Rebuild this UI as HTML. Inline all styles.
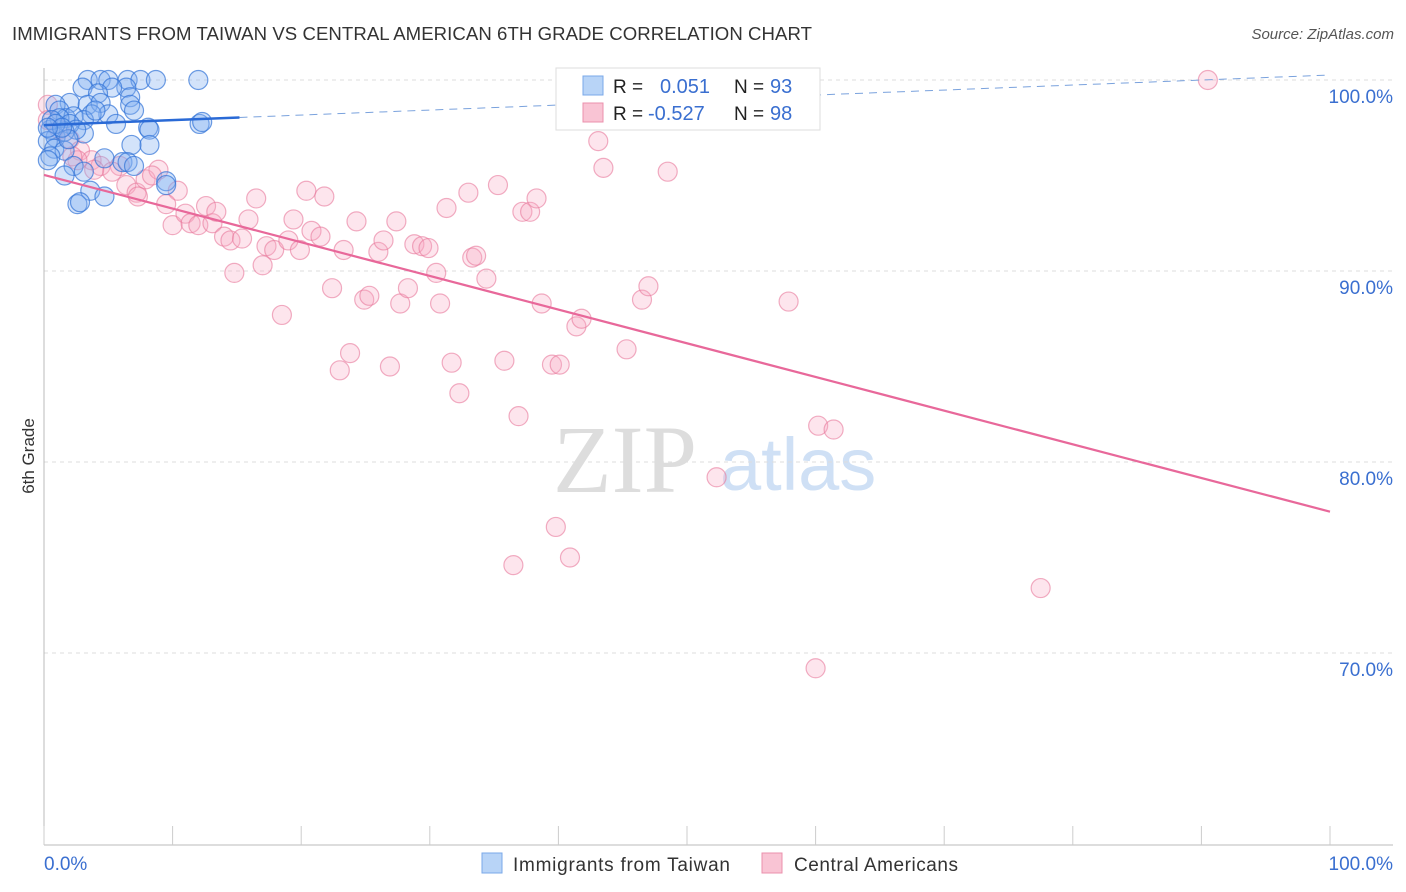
<!DOCTYPE html>
<html><head><meta charset="utf-8"><style>
body{margin:0;background:#fff;font-family:"Liberation Sans",sans-serif;}
svg{display:block}
</style></head><body>
<svg id="c" width="1406" height="892" xmlns="http://www.w3.org/2000/svg">
<text x="12" y="40" font-size="18.6" fill="#333" textLength="800">IMMIGRANTS FROM TAIWAN VS CENTRAL AMERICAN 6TH GRADE CORRELATION CHART</text>
<text x="1394" y="39" font-size="15" fill="#555" font-style="italic" text-anchor="end">Source: ZipAtlas.com</text>
<text x="34" y="456" font-size="17" fill="#333" text-anchor="middle" transform="rotate(-90 34 456)">6th Grade</text>
<g>
<text x="553" y="492" font-size="96" font-family="Liberation Serif,serif" fill="#ddd">ZIP</text>
<text x="720" y="490" font-size="74" fill="#cfe0f5">atlas</text>
</g>
<g id="grid"></g><g id="axes"></g><g id="pts"></g><g id="lines"></g>
<g>
<rect x="556" y="68" width="264" height="62" fill="#fff" stroke="#ddd"/>
<rect x="583" y="76" width="20" height="19" fill="#b8d4f7" stroke="#7aa8e8"/>
<rect x="583" y="103" width="20" height="19" fill="#f9c4d4" stroke="#eb90ac"/>
<text x="613" y="93" font-size="19" fill="#222">R =</text>
<text x="660" y="93" font-size="20" fill="#3a6fd0">0.051</text>
<text x="734" y="93" font-size="19" fill="#222">N =</text>
<text x="770" y="93" font-size="20" fill="#3a6fd0">93</text>
<text x="613" y="120" font-size="19" fill="#222">R =</text>
<text x="648" y="120" font-size="20" fill="#3a6fd0">-0.527</text>
<text x="734" y="120" font-size="19" fill="#222">N =</text>
<text x="770" y="120" font-size="20" fill="#3a6fd0">98</text>
</g>
<g>
<rect x="482" y="853" width="20" height="20" fill="#b8d4f7" stroke="#7aa8e8"/>
<text x="513" y="871" font-size="19" fill="#333" textLength="217">Immigrants from Taiwan</text>
<rect x="762" y="853" width="20" height="20" fill="#f9c4d4" stroke="#eb90ac"/>
<text x="794" y="871" font-size="19" fill="#333" textLength="164">Central Americans</text>
</g>
</svg>
<script>
const yTicks=[100,90,80,70];
const yTickLabels=["100.0%","90.0%","80.0%","70.0%"];
const xTicks=[0,10,20,30,40,50,60,70,80,90,100];
const blueX=[3.4,4.4,5.0,6.5,7.5,8.7,12.0,6.4,5.3,3.0,4.2,2.0,3.4,4.4,6.7,6.7,7.0,5.0,3.7,0.9,1.2,1.7,2.3,3.1,5.6,8.1,8.2,12.1,12.3,8.2,6.8,3.1,0.9,0.5,0.3,0.8,1.6,0.5,0.3,4.7,6.1,6.5,7.0,2.3,3.1,1.6,9.5,9.5,3.6,4.7,2.6,2.8,1.2,2.0,0.6,2.5,1.6,1.9,4.0,0.9,1.4,0.3];
const blueY=[100,100,100,100,100,100,100,99.6,99.6,99.6,99.3,98.8,98.7,98.8,99.1,98.7,98.4,98.2,98.2,98.7,98.4,98.0,98.1,97.9,97.7,97.5,97.4,97.7,97.8,96.6,96.6,97.2,97.0,97.4,96.8,96.4,96.3,96.0,95.8,95.9,95.7,95.7,95.5,95.5,95.2,95.0,94.7,94.5,94.2,93.9,93.5,93.6,98.0,97.7,97.9,97.4,97.3,96.9,98.4,97.7,97.5,97.5];
const pinkX=[0.3,0.3,1.2,2.0,2.8,3.7,2.6,4.4,5.9,5.3,6.4,7.2,7.9,7.3,8.9,8.4,10.4,9.5,10.0,11.0,11.4,12.0,12.6,13.1,13.4,14.0,14.5,15.4,15.9,16.5,14.8,17.0,17.3,17.9,18.5,19.0,19.4,19.9,20.4,20.8,21.5,21.8,22.4,23.0,23.3,23.8,24.3,24.9,25.3,26.0,26.4,26.9,27.4,27.7,28.3,28.8,29.4,29.9,30.5,30.8,31.3,31.7,32.3,33.0,33.3,33.6,34.4,35.3,35.8,36.5,36.9,37.2,37.8,38.3,38.7,39.5,39.8,40.1,40.9,41.4,41.8,43.1,43.5,45.3,46.5,47.0,48.5,49.3,52.3,57.9,60.2,61.4,60.0,77.5,90.5,3.9,2.2];
const pinkY=[98.7,97.9,97.4,96.9,96.3,95.8,95.8,95.5,95.5,95.2,94.5,94.1,94.8,93.9,95.3,95.0,94.2,93.5,92.4,93.0,92.5,92.4,93.4,92.5,93.1,91.8,91.6,91.7,92.7,93.8,89.9,90.3,91.3,91.1,87.7,91.6,92.7,91.1,94.2,92.1,91.8,93.9,89.1,84.8,91.1,85.7,92.6,88.5,88.7,91.0,91.6,85.0,92.6,88.3,89.1,91.4,91.3,91.2,89.9,88.3,93.3,85.2,83.6,94.1,90.7,90.8,89.6,94.5,85.3,74.6,82.4,93.1,93.1,93.8,88.3,85.1,76.6,85.1,75.0,87.1,87.5,96.8,95.4,85.9,88.5,89.2,95.2,100,79.2,88.4,81.9,81.7,69.2,73.4,100,95.3,96.0];
const blueFit=[97.64,100.26];
const pinkFit=[95.03,77.4];
const NS="http://www.w3.org/2000/svg";
const sx=v=>44+v*12.86;
const sy=v=>80+(100-v)*19.1;
function mk(t,a,p){const e=document.createElementNS(NS,t);for(const k in a)e.setAttribute(k,a[k]);document.getElementById(p).appendChild(e);return e;}
yTicks.forEach((t,i)=>{
 const l=mk('line',{x1:44,x2:1393,y1:sy(t),y2:sy(t),stroke:'#ddd','stroke-dasharray':'4,4'},'grid');
 
 
 const tx=mk('text',{x:1393,y:sy(t)+23,'font-size':19,fill:'#3a6fd0','text-anchor':'end'},'grid');
 tx.textContent=yTickLabels[i];
 
 
});
const ax=mk('line',{x1:44,x2:1393,y1:845,y2:845,stroke:'#bbb'},'axes');


const ay=mk('line',{x1:44,x2:44,y1:68,y2:845,stroke:'#bbb'},'axes');


xTicks.forEach(t=>{
 const l=mk('line',{x1:sx(t),x2:sx(t),y1:826,y2:845,stroke:'#ccc'},'axes');
 
 
});
const x0=mk('text',{x:44,y:870,'font-size':19,fill:'#3a6fd0'},'axes');x0.textContent='0.0%';


const x1=mk('text',{x:1393,y:870,'font-size':19,fill:'#3a6fd0','text-anchor':'end'},'axes');x1.textContent='100.0%';


pinkX.forEach((x,i)=>{
 const c=mk('circle',{cx:sx(x),cy:sy(pinkY[i]),r:9.5,fill:'rgba(248,170,195,0.3)',stroke:'rgba(232,120,155,0.6)','stroke-width':1.2},'pts');
 
 
});
blueX.forEach((x,i)=>{
 const c=mk('circle',{cx:sx(x),cy:sy(blueY[i]),r:9.5,fill:'rgba(130,175,240,0.35)',stroke:'rgba(50,115,215,0.7)','stroke-width':1.2},'pts');
 
 
});
const bf=x=>blueFit[0]+(blueFit[1]-blueFit[0])*x/100;
const b1=mk('line',{x1:sx(0),y1:sy(bf(0)),x2:sx(15.2),y2:sy(bf(15.2)),stroke:'#2a6ad6','stroke-width':2.5},'lines');


const b2=mk('line',{x1:sx(15.2),y1:sy(bf(15.2)),x2:sx(100),y2:sy(bf(100)),stroke:'#7aa2dd','stroke-width':1,'stroke-dasharray':'8,6'},'lines');


const p1=mk('line',{x1:sx(0),y1:sy(pinkFit[0]),x2:sx(100),y2:sy(pinkFit[1]),stroke:'#e8689a','stroke-width':2.2},'lines');


</script>
</body></html>
